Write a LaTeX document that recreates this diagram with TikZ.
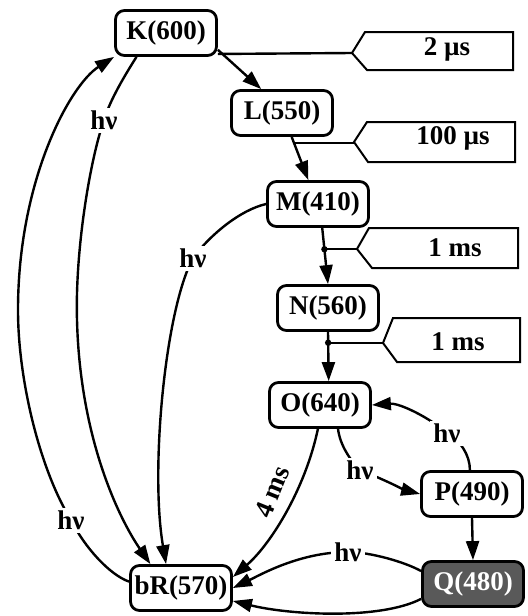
\documentclass[tikz,border=0pt]{standalone}
\usepackage{fontspec}
\setmainfont{Liberation Serif}
\usetikzlibrary{arrows.meta,calc}
\begin{document}
\begin{tikzpicture}[x=0.5pt,y=-0.5pt,
  state/.style={draw,line width=1.4pt,rounded corners=4.5pt,minimum width=50.5pt,minimum height=22.5pt,inner sep=0pt,font=\bfseries\fontsize{13.5}{15}\selectfont},
  conn/.style={line width=1.2pt},
  arr/.style={conn,-{Triangle[length=9.5pt,width=6.5pt]}},
  lab/.style={fill=white,inner sep=1.5pt,font=\bfseries\fontsize{13.5}{15}\selectfont},
  callout/.style={line width=1pt,line join=miter},
  ctext/.style={font=\bfseries\fontsize{13.5}{15}\selectfont}]
\useasboundingbox (0,0) rectangle (527,616);

% states
\node[state] (K) at (166,33) {K(600)};
\node[state] (L) at (282,113) {L(550)};
\node[state] (M) at (318,204) {M(410)};
\node[state] (N) at (328,308) {N(560)};
\node[state] (O) at (320,405) {O(640)};
\node[state] (P) at (472,494) {P(490)};
\node[state,fill=black!65,text=white] (Q) at (473,584) {Q(480)};
\node[state] (bR) at (181,588) {bR(570)};

% callouts
\coordinate (c1) at (352,53);
\coordinate (c2) at (354,142);
\coordinate (c3) at (357,249);
\coordinate (c4) at (383,343);
\draw[callout] (c1) -- (365,32) -- (513,32) -- (513,70) -- (367,70) -- cycle;
\draw[callout] (c2) -- (367,122) -- (515,122) -- (515,162) -- (368,162) -- cycle;
\draw[callout] (c3) -- (369,228) -- (518,228) -- (518,268) -- (372,268) -- cycle;
\draw[callout] (c4) -- (393,318) -- (520,318) -- (520,362) -- (397,362) -- cycle;
\node[ctext] (t1) at (447,49) {2 µs};
\node[ctext] (t2) at (453,138) {100 µs};
\node[ctext] (t3) at (455,248) {1 ms};
\node[ctext] (t4) at (458,342) {1 ms};

% thermal chain
\draw[arr] (K.-18) -- (L.131);
\draw[conn] (K.-22) -- (c1);
\draw[arr] (L.-68) -- (M.112);
\coordinate (j2) at ($(L.-68)!0.14!(M.112)$);
\draw[conn] (j2) -- (j2 -| c2);
\draw[arr] (M.-80) -- (N.north);
\coordinate (j3) at ($(M.-80)!0.38!(N.north)$);
\draw[conn] (j3) -- (j3 -| c3);
\fill (j3) circle[radius=1.6pt];
\draw[arr] (N.south) -- (O.70);
\coordinate (j4) at ($(N.south)!0.22!(O.70)$);
\draw[conn] (j4) -- (j4 -| c4);
\fill (j4) circle[radius=1.6pt];
\draw[arr] (P.south) -- (Q.north);

% curves
\draw[arr] (bR.173) .. controls (110,575) and (85,548) .. (71,520) node[lab] (hA) {hν}
  .. controls (40,470) and (18,380) .. (18,310)
  .. controls (18,180) and (70,85) .. (K.south west);
\draw[arr] (K.-141) .. controls (125,75) and (110,100) .. (104,120) node[lab] (hB) {hν}
  .. controls (90,160) and (75,250) .. (77,320)
  .. controls (80,440) and (120,520) .. (bR.142);
\draw[arr] (M.west) .. controls (240,210) and (210,235) .. (193,258) node[lab] (hC) {hν}
  .. controls (165,310) and (150,470) .. (bR.122);
\draw[arr] (O.-95) .. controls (305,490) and (270,545) .. (bR.12);
\node[ctext,rotate=68,inner sep=0pt] (t5) at (272,492) {4 ms};
\draw[arr] (P.95) .. controls (470,455) and (460,440) .. (447,433) node[lab] (hE) {hν}
  .. controls (430,418) and (400,403) .. (O.east);
\draw[arr] (O.-53) .. controls (340,445) and (350,460) .. (360,470) node[lab] (hF) {hν}
  .. controls (385,480) and (405,490) .. (P.west);
\draw[arr] (Q.166) .. controls (405,562) and (370,552) .. (348,552) node[lab] (hG) {hν}
  .. controls (300,552) and (260,575) .. (bR.0);
\draw[arr] (Q.196) .. controls (380,620) and (290,615) .. (bR.-14);
\end{tikzpicture}
\end{document}
